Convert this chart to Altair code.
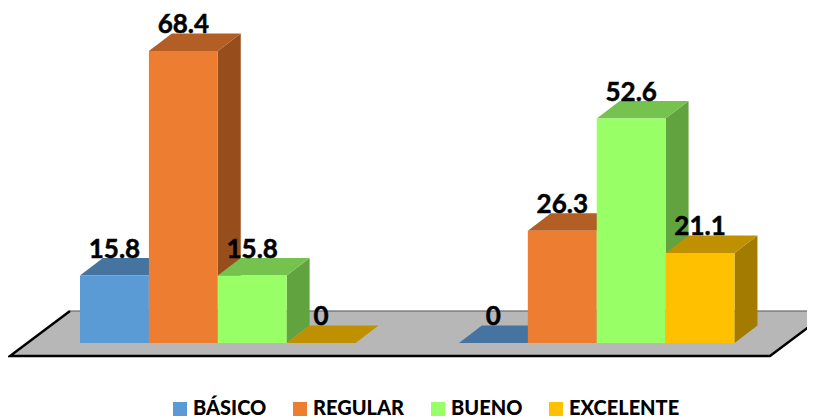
import altair as alt
import pandas as pd

series = ["BÁSICO", "REGULAR", "BUENO", "EXCELENTE"]
front_colors = ["#5B9BD5", "#ED7D31", "#99FF66", "#FFC000"]
top_colors = ["#44749F", "#B25E24", "#75C24F", "#BF9000"]
side_colors = ["#3A6386", "#974E1C", "#61A33F", "#A37B00"]
group_values = [[15.8, 68.4, 15.8, 0], [0, 26.3, 52.6, 21.1]]
group_starts = [0.0, 5.5]
depth_x = 0.333
depth_y = 4.1
floor_edge_x = [-0.145, -1.016, 10.015, 10.885]
floor_edge_y = [7.5, -3.04, -3.04, 7.5]

X = alt.Scale(domain=[-1.045, 10.552], range=[0, 799], nice=False, zero=False)
Y = alt.Scale(domain=[-18.03, 78.45], range=[412, 0], nice=False, zero=False)

rows, sides, tops = [], [], []
for g, (start, vals) in enumerate(zip(group_starts, group_values)):
    for i, v in enumerate(vals):
        x0, x1 = start + i, start + i + 1
        key = f"{g}-{i}"
        rows.append(dict(s=series[i], x0=x0, x1=x1, mid=(x0 + x1) / 2, v=v,
                         back=v + depth_y, label=f"{v:g}"))
        sides += [dict(k=key, fill=side_colors[i], x=x1, y=v, y2=0),
                  dict(k=key, fill=side_colors[i], x=x1 + depth_x, y=v + depth_y, y2=depth_y)]
        tops += [dict(k=key, fill=top_colors[i], y=v, x=x0, x2=x1),
                 dict(k=key, fill=top_colors[i], y=v + depth_y, x=x0 + depth_x, x2=x1 + depth_x)]

bars = pd.DataFrame(rows)
side_df = pd.DataFrame(sides)
top_df = pd.DataFrame(tops)
floor_df = pd.DataFrame([
    dict(y=floor_edge_y[1], x=floor_edge_x[1], x2=floor_edge_x[2]),
    dict(y=floor_edge_y[0], x=floor_edge_x[0], x2=floor_edge_x[3]),
])
edge_df = pd.DataFrame(dict(x=floor_edge_x, y=floor_edge_y, o=range(4)))
back_df = pd.DataFrame(dict(x=[floor_edge_x[0], floor_edge_x[3]], y=[floor_edge_y[0], floor_edge_y[3]]))

floor = alt.Chart(floor_df).mark_area(orient="horizontal", color="#B7B7B7", clip=True).encode(
    y=alt.Y("y:Q", scale=Y, axis=None),
    x=alt.X("x:Q", scale=X, axis=None),
    x2="x2:Q",
)
back_line = alt.Chart(back_df).mark_line(color="#555555", strokeWidth=1, clip=True).encode(
    x=alt.X("x:Q", scale=X, axis=None), y=alt.Y("y:Q", scale=Y, axis=None)
)
edge = alt.Chart(edge_df).mark_line(color="#000000", strokeWidth=2.5, clip=True, strokeJoin="miter").encode(
    x=alt.X("x:Q", scale=X, axis=None), y=alt.Y("y:Q", scale=Y, axis=None), order="o:Q"
)
side = alt.Chart(side_df).mark_area(orient="vertical").encode(
    x=alt.X("x:Q", scale=X, axis=None),
    y=alt.Y("y:Q", scale=Y, axis=None),
    y2="y2:Q",
    detail="k:N",
    fill=alt.Fill("fill:N", scale=None),
)
top = alt.Chart(top_df).mark_area(orient="horizontal").encode(
    y=alt.Y("y:Q", scale=Y, axis=None),
    x=alt.X("x:Q", scale=X, axis=None),
    x2="x2:Q",
    detail="k:N",
    fill=alt.Fill("fill:N", scale=None),
)
front = alt.Chart(bars).mark_rect().encode(
    x=alt.X("x0:Q", scale=X, axis=None),
    x2="x1:Q",
    y=alt.Y("v:Q", scale=Y, axis=None),
    y2=alt.datum(0),
    color=alt.Color(
        "s:N",
        scale=alt.Scale(domain=series, range=front_colors),
        legend=alt.Legend(
            title=None, orient="none", legendX=162, legendY=391, direction="horizontal",
            symbolType="square", symbolSize=196, symbolStrokeWidth=0, symbolOpacity=1,
            labelFont="Lato", labelFontWeight=900, labelFontSize=20, labelColor="#000000",
            labelOffset=3, columnPadding=23, padding=0, labelLimit=300,
        ),
    ),
)
labels = alt.Chart(bars).mark_text(
    font="Lato", fontWeight="bold", fontSize=26, color="#000000", stroke="#000000", strokeWidth=0.5,
    baseline="alphabetic", align="center"
).encode(
    x=alt.X("mid:Q", scale=X, axis=None),
    y=alt.Y("back:Q", scale=Y, axis=None),
    text="label:N",
)

chart = alt.layer(floor, back_line, edge, side, top, front, labels).properties(
    width=799, height=412, padding=0, autosize=alt.AutoSizeParams(type="none"),
    background="#FFFFFF",
).configure_view(stroke=None)

chart.save("out.html", embed_options={"renderer": "svg", "actions": False})
